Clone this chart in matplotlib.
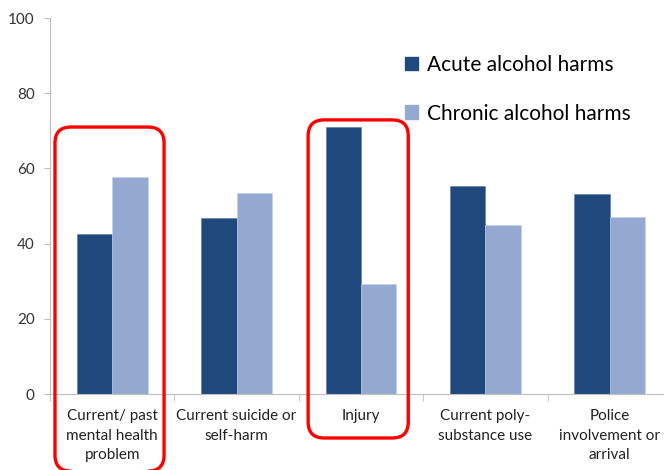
import matplotlib
matplotlib.use("Agg")
import matplotlib.pyplot as plt
from matplotlib.patches import FancyBboxPatch, Patch
from matplotlib.transforms import IdentityTransform
import numpy as np

categories = [
    "Current/ past\nmental health\nproblem",
    "Current suicide or\nself-harm",
    "Injury",
    "Current poly-\nsubstance use",
    "Police\ninvolvement or\narrival",
]
acute = [42.5, 46.7, 70.9, 55.3, 53.2]
chronic = [57.6, 53.4, 29.3, 44.9, 47.0]
series_names = ["Acute alcohol harms", "Chronic alcohol harms"]
yticks = [0, 20, 40, 60, 80, 100]

# highlighted groups: box span in data units (x, y)
highlights = [
    ((-0.46, 0.417), (-20.5, 71.0)),
    ((1.575, 2.38), (-11.7, 72.9)),
]

c_acute = "#1F497D"
c_chronic = "#95A9D0"
axis_grey = "#BFBFBF"

plt.rcParams["font.family"] = ["Lato", "DejaVu Sans"]

fig = plt.figure(figsize=(6.64, 4.70), dpi=100)
ax = fig.add_axes([50 / 664, 76 / 470, 622 / 664, 376 / 470])

x = np.arange(len(categories))
w = 0.285
ax.bar(x - w / 2, acute, w, color=c_acute, edgecolor="#5A7BA8", linewidth=0.4, zorder=2)
ax.bar(x + w / 2, chronic, w, color=c_chronic, edgecolor="#C5D2E8", linewidth=0.4, zorder=2)

ax.set_xlim(-0.5, len(categories) - 0.5)
ax.set_ylim(0, 100)
ax.set_yticks(yticks)
ax.set_yticklabels([str(t) for t in yticks], fontsize=11, color="#333333")
ax.tick_params(axis="y", length=4, color=axis_grey, pad=7)

ax.set_xticks(x)
ax.set_xticklabels(categories, fontsize=11, color="#222222", linespacing=1.5)
ax.tick_params(axis="x", which="major", length=0, pad=11)
ax.set_xticks(np.arange(len(categories) + 1) - 0.5, minor=True)
ax.tick_params(axis="x", which="minor", length=5, color=axis_grey, direction="out")

for side in ["top", "right"]:
    ax.spines[side].set_visible(False)
ax.spines["left"].set_color(axis_grey)
ax.spines["bottom"].set_color(axis_grey)

handles = [Patch(facecolor=c_acute, edgecolor=c_acute),
           Patch(facecolor=c_chronic, edgecolor=c_chronic)]
ax.legend(handles, series_names, loc="upper left", bbox_to_anchor=(0.54, 0.952),
          frameon=False, fontsize=15, handlelength=0.62, handleheight=0.62,
          handletextpad=0.45, labelspacing=1.38)

# rounded red outlines around highlighted groups, drawn in pixel space
fig.canvas.draw()
for (x0, x1), (y0, y1) in highlights:
    p0 = ax.transData.transform((x0, y0))
    p1 = ax.transData.transform((x1, y1))
    box = FancyBboxPatch((p0[0], p0[1]), p1[0] - p0[0], p1[1] - p0[1],
                         boxstyle="round,pad=0,rounding_size=16",
                         transform=IdentityTransform(), fill=False,
                         edgecolor="#FF0000", linewidth=2.4, clip_on=False, zorder=5)
    fig.patches.append(box)

fig.savefig("out.png", dpi=100)
